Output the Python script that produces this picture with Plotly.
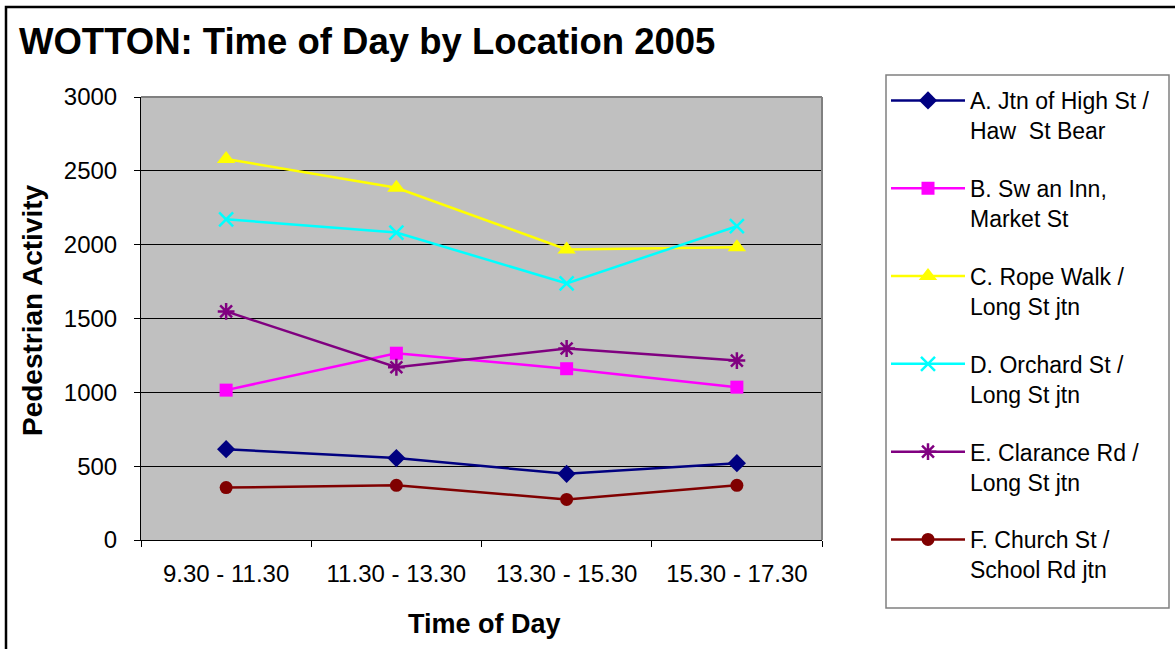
import plotly.graph_objects as go

categories = ["9.30 - 11.30", "11.30 - 13.30", "13.30 - 15.30", "15.30 - 17.30"]

series_names = [
    "A. Jtn of High St /<br>Haw  St Bear",
    "B. Sw an Inn,<br>Market St",
    "C. Rope Walk /<br>Long St jtn",
    "D. Orchard St /<br>Long St jtn",
    "E. Clarance Rd /<br>Long St jtn",
    "F. Church St /<br>School Rd jtn",
]
values_a = [615, 555, 448, 520]
values_b = [1015, 1265, 1160, 1035]
values_c = [2580, 2385, 1968, 1982]
values_d = [2172, 2082, 1738, 2125]
values_e = [1548, 1170, 1297, 1215]
values_f = [355, 370, 275, 370]

series_values = [values_a, values_b, values_c, values_d, values_e, values_f]
colors = ["#000080", "#FF00FF", "#FFFF00", "#00FFFF", "#800080", "#800000"]
symbols = ["diamond", "square", "triangle-up", "x-thin-open", "asterisk-open", "circle"]
sizes = [14, 13, 16, 14, 14, 13]

FONT = "Liberation Sans, Arial, sans-serif"

fig = go.Figure()
for i, (name, vals) in enumerate(zip(series_names, series_values)):
    marker = dict(symbol=symbols[i], size=sizes[i], color=colors[i])
    if symbols[i].endswith("open"):
        marker["line"] = dict(color=colors[i], width=2.5)
    fig.add_trace(go.Scatter(
        x=categories, y=vals, name=name, mode="lines+markers",
        line=dict(color=colors[i], width=2.5), marker=marker,
        legendgroup=f"g{i}",
    ))

# plot area pixel geometry
L, R, T, B = 141, 822, 97, 540
W, H = R - L, B - T

def px(x):
    return (x - L) / W

def py(y):
    return (B - y) / H

fig.update_layout(
    width=1175, height=649,
    margin=dict(l=L, r=1175 - R, t=T, b=649 - B),
    paper_bgcolor="white",
    plot_bgcolor="#C0C0C0",
    font=dict(family=FONT, color="black"),
    title=dict(
        text="<b>WOTTON: Time of Day by Location 2005</b>",
        font=dict(size=36.5, family=FONT, color="black"),
        xref="container", yref="container",
        x=19 / 1175, xanchor="left",
        y=1 - 41 / 649, yanchor="middle",
    ),
    showlegend=True,
    legend=dict(
        x=px(886), y=py(79), xanchor="left", yanchor="top",
        bgcolor="rgba(0,0,0,0)", borderwidth=0,
        font=dict(size=23, family=FONT, color="black"),
        tracegroupgap=25, valign="top", itemwidth=74,
        entrywidth=190, entrywidthmode="pixels",
        traceorder="grouped", maxheight=640,
    ),
    xaxis=dict(
        type="category", tickson="boundaries",
        showgrid=False, showline=True, linecolor="black", linewidth=1,
        ticks="outside", ticklen=6, tickcolor="black",
        tickfont=dict(size=24, family=FONT, color="black"),
        ticklabelstandoff=12,
        range=[-0.5, 3.5],
    ),
    yaxis=dict(
        range=[0, 3000], dtick=500,
        showgrid=True, gridcolor="black", gridwidth=1,
        showline=True, linecolor="black", linewidth=1,
        ticks="outside", ticklen=6, tickcolor="black",
        tickfont=dict(size=24, family=FONT, color="black"),
        ticklabelstandoff=12,
        zeroline=False,
    ),
)

# axis titles
fig.add_annotation(
    text="<b>Pedestrian Activity</b>", textangle=-90,
    xref="paper", yref="paper", x=px(32), y=py(311),
    xanchor="center", yanchor="middle", showarrow=False,
    font=dict(size=28, family=FONT, color="black"),
)
fig.add_annotation(
    text="<b>Time of Day</b>",
    xref="paper", yref="paper", x=px(484), y=py(624),
    xanchor="center", yanchor="middle", showarrow=False,
    font=dict(size=27, family=FONT, color="black"),
)

# legend frame
fig.add_shape(type="rect", xref="paper", yref="paper",
              x0=px(886), x1=px(1169), y0=py(75), y1=py(608),
              line=dict(color="#808080", width=1.5), fillcolor="white",
              layer="below")

# plot-area top/right border in grey
fig.add_shape(type="line", xref="paper", yref="paper", x0=0, x1=1, y0=1, y1=1,
              line=dict(color="#808080", width=2), layer="above")
fig.add_shape(type="line", xref="paper", yref="paper", x0=1, x1=1, y0=0, y1=1,
              line=dict(color="#808080", width=2), layer="above")

# outer chart border (left and top visible)
fig.add_shape(type="rect", xref="paper", yref="paper",
              x0=px(6), x1=px(1240), y0=py(7), y1=py(720),
              line=dict(color="black", width=2.5), fillcolor="rgba(0,0,0,0)",
              layer="above")

fig.write_html(
    "out.html",
    config={"displayModeBar": False},
    post_script="document.body.style.margin='0';document.body.style.overflow='hidden';",
)
